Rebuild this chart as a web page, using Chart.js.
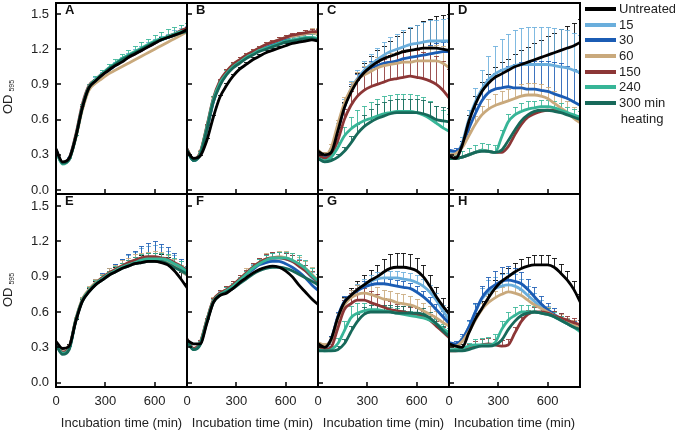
<!DOCTYPE html>
<html>
<head>
<meta charset="utf-8">
<script src="https://cdn.jsdelivr.net/npm/chart.js@4.4.1/dist/chart.umd.min.js"></script>
<style>
  body { margin: 0; background: #fff; width: 675px; height: 431px; position: relative; overflow: hidden;
         font-family: "Liberation Sans", Arial, sans-serif; color: #222; }
  canvas { position: absolute; }
  .od { position: absolute; left: -22px; width: 60px; height: 16px; line-height: 16px; text-align: center;
        font-size: 13px; transform: rotate(-90deg); white-space: nowrap; }
  .od sub { font-size: 7px; vertical-align: -2px; margin-left: 3px; }
  .lg-line { position: absolute; left: 585px; width: 31px; height: 4px; }
  .lg-text { position: absolute; left: 619px; font-size: 13px; line-height: 16px; white-space: nowrap; }
</style>
</head>
<body>
<script>
// time axis (min) and tick labels
const timeMin = [0, 40, 80, 120, 160, 200, 240, 280, 320, 360, 400, 440, 480, 520, 560, 600, 640, 680, 720, 760, 800];
const xTicks = [0, 300, 600];
const yTicks = [0, 0.3, 0.6, 0.9, 1.2, 1.5];
const seriesNames = ['Untreated', '15', '30', '60', '150', '240', '300 min heating'];
const seriesColors = ['#000000', '#6aaedc', '#1b5cb4', '#c9a97c', '#8c3636', '#37b597', '#17695a'];
const panelLetters = ['A', 'B', 'C', 'D', 'E', 'F', 'G', 'H'];

// OD595 per panel, one row per series (Untreated, 15, 30, 60, 150, 240, 300)
const odA = [
  [0.35,0.24,0.27,0.45,0.70,0.87,0.93,0.98,1.02,1.06,1.09,1.13,1.16,1.19,1.22,1.25,1.28,1.30,1.32,1.34,1.37],
  [0.34,0.23,0.27,0.46,0.71,0.88,0.94,0.99,1.03,1.07,1.10,1.14,1.17,1.20,1.23,1.26,1.28,1.30,1.33,1.35,1.37],
  [0.33,0.23,0.26,0.45,0.70,0.87,0.93,0.98,1.02,1.06,1.10,1.13,1.16,1.19,1.22,1.25,1.28,1.30,1.32,1.35,1.37],
  [0.33,0.23,0.26,0.44,0.68,0.85,0.91,0.95,0.99,1.02,1.05,1.08,1.11,1.14,1.17,1.20,1.23,1.26,1.29,1.32,1.35],
  [0.34,0.23,0.27,0.47,0.73,0.89,0.94,0.99,1.03,1.07,1.10,1.13,1.16,1.19,1.22,1.25,1.28,1.31,1.33,1.36,1.38],
  [0.33,0.22,0.26,0.45,0.71,0.88,0.94,0.99,1.04,1.08,1.12,1.15,1.18,1.21,1.24,1.27,1.29,1.31,1.33,1.35,1.36],
  [0.34,0.23,0.26,0.45,0.70,0.87,0.93,0.98,1.03,1.07,1.11,1.14,1.17,1.20,1.23,1.26,1.28,1.30,1.32,1.34,1.35]
];
const odB = [
  [0.33,0.27,0.29,0.42,0.62,0.79,0.89,0.97,1.03,1.07,1.11,1.14,1.17,1.19,1.21,1.23,1.25,1.26,1.27,1.28,1.27],
  [0.35,0.25,0.31,0.52,0.76,0.91,1.00,1.06,1.10,1.14,1.17,1.20,1.23,1.25,1.27,1.29,1.31,1.32,1.33,1.34,1.34],
  [0.34,0.25,0.31,0.51,0.75,0.90,0.99,1.05,1.10,1.14,1.17,1.20,1.23,1.25,1.27,1.29,1.31,1.32,1.33,1.34,1.35],
  [0.35,0.26,0.32,0.53,0.77,0.92,1.01,1.07,1.11,1.15,1.18,1.21,1.24,1.26,1.28,1.30,1.31,1.32,1.33,1.34,1.33],
  [0.35,0.26,0.32,0.54,0.78,0.93,1.01,1.07,1.11,1.15,1.18,1.21,1.24,1.26,1.28,1.30,1.32,1.33,1.34,1.35,1.35],
  [0.34,0.25,0.31,0.53,0.77,0.91,0.99,1.05,1.09,1.13,1.16,1.19,1.21,1.23,1.25,1.27,1.28,1.29,1.30,1.30,1.29],
  [0.34,0.25,0.30,0.51,0.75,0.89,0.98,1.04,1.08,1.12,1.15,1.18,1.20,1.22,1.24,1.26,1.27,1.28,1.29,1.29,1.28]
];
const odC = [
  [0.33,0.30,0.32,0.50,0.70,0.83,0.93,1.00,1.05,1.09,1.12,1.14,1.16,1.18,1.19,1.20,1.21,1.21,1.21,1.20,1.19],
  [0.32,0.28,0.33,0.52,0.72,0.86,0.95,1.02,1.07,1.11,1.15,1.18,1.20,1.22,1.24,1.25,1.26,1.27,1.27,1.27,1.27],
  [0.32,0.28,0.32,0.51,0.70,0.85,0.94,1.00,1.04,1.06,1.08,1.09,1.10,1.12,1.13,1.14,1.15,1.16,1.17,1.18,1.18],
  [0.34,0.30,0.36,0.56,0.74,0.86,0.94,0.98,1.01,1.04,1.06,1.07,1.08,1.09,1.09,1.10,1.10,1.10,1.10,1.08,1.04],
  [0.30,0.27,0.30,0.42,0.60,0.72,0.80,0.85,0.88,0.90,0.92,0.94,0.95,0.96,0.97,0.96,0.95,0.93,0.90,0.85,0.78],
  [0.27,0.25,0.28,0.36,0.46,0.52,0.56,0.59,0.61,0.63,0.65,0.66,0.67,0.67,0.67,0.66,0.64,0.61,0.57,0.53,0.50],
  [0.27,0.24,0.25,0.28,0.33,0.40,0.48,0.54,0.58,0.61,0.63,0.65,0.66,0.66,0.66,0.66,0.65,0.63,0.60,0.59,0.58]
];
const odD = [
  [0.29,0.27,0.38,0.58,0.73,0.84,0.91,0.96,0.99,1.02,1.05,1.07,1.09,1.11,1.13,1.15,1.17,1.19,1.21,1.23,1.26],
  [0.33,0.31,0.40,0.60,0.75,0.86,0.94,0.99,1.02,1.04,1.06,1.07,1.07,1.07,1.07,1.07,1.06,1.05,1.04,1.02,1.00],
  [0.34,0.33,0.38,0.52,0.65,0.76,0.83,0.86,0.87,0.88,0.87,0.87,0.86,0.86,0.85,0.84,0.82,0.80,0.78,0.75,0.72],
  [0.30,0.31,0.36,0.46,0.56,0.64,0.69,0.72,0.74,0.76,0.78,0.80,0.81,0.81,0.80,0.78,0.74,0.70,0.66,0.61,0.57],
  [0.27,0.27,0.28,0.30,0.32,0.34,0.33,0.32,0.32,0.37,0.47,0.56,0.62,0.65,0.67,0.68,0.68,0.67,0.65,0.63,0.61],
  [0.27,0.27,0.28,0.30,0.32,0.34,0.33,0.32,0.45,0.58,0.64,0.67,0.69,0.70,0.71,0.71,0.70,0.68,0.66,0.64,0.62],
  [0.27,0.27,0.28,0.30,0.32,0.33,0.33,0.32,0.34,0.42,0.51,0.59,0.64,0.67,0.68,0.68,0.67,0.66,0.64,0.62,0.60]
];
const odE = [
  [0.35,0.29,0.31,0.52,0.69,0.77,0.83,0.87,0.91,0.94,0.97,0.99,1.01,1.02,1.03,1.03,1.02,1.00,0.95,0.88,0.80],
  [0.33,0.25,0.29,0.53,0.70,0.78,0.84,0.88,0.92,0.95,0.98,1.00,1.02,1.04,1.05,1.05,1.04,1.02,0.99,0.95,0.91],
  [0.33,0.25,0.29,0.53,0.70,0.78,0.84,0.88,0.92,0.95,0.98,1.01,1.03,1.05,1.06,1.06,1.05,1.03,1.00,0.96,0.91],
  [0.34,0.26,0.30,0.54,0.71,0.79,0.85,0.89,0.93,0.96,0.99,1.01,1.03,1.04,1.05,1.05,1.04,1.02,0.99,0.95,0.91],
  [0.34,0.26,0.30,0.53,0.70,0.78,0.84,0.89,0.93,0.96,0.99,1.02,1.04,1.06,1.07,1.07,1.06,1.05,1.02,0.99,0.95],
  [0.33,0.25,0.29,0.53,0.70,0.78,0.84,0.88,0.92,0.95,0.98,1.00,1.02,1.04,1.05,1.05,1.05,1.04,1.01,0.98,0.94],
  [0.32,0.24,0.28,0.52,0.69,0.77,0.83,0.87,0.91,0.94,0.97,0.99,1.01,1.02,1.03,1.03,1.03,1.01,0.98,0.95,0.92]
];
const odF = [
  [0.36,0.33,0.33,0.50,0.68,0.74,0.76,0.80,0.85,0.89,0.93,0.96,0.98,0.99,0.98,0.95,0.90,0.83,0.77,0.71,0.66],
  [0.37,0.29,0.33,0.52,0.69,0.75,0.78,0.82,0.87,0.92,0.97,1.01,1.04,1.05,1.06,1.05,1.03,1.00,0.95,0.89,0.82],
  [0.36,0.29,0.33,0.52,0.69,0.75,0.78,0.82,0.87,0.92,0.96,1.00,1.02,1.03,1.03,1.01,0.98,0.94,0.89,0.83,0.78],
  [0.37,0.29,0.34,0.53,0.70,0.76,0.79,0.83,0.88,0.93,0.98,1.02,1.05,1.06,1.07,1.06,1.04,1.01,0.97,0.92,0.86],
  [0.37,0.29,0.34,0.53,0.70,0.76,0.79,0.83,0.88,0.93,0.98,1.02,1.05,1.06,1.06,1.05,1.03,0.99,0.95,0.90,0.85],
  [0.36,0.28,0.33,0.52,0.69,0.75,0.78,0.82,0.87,0.92,0.97,1.01,1.04,1.06,1.06,1.06,1.04,1.01,0.97,0.91,0.86],
  [0.35,0.28,0.32,0.51,0.68,0.74,0.77,0.80,0.84,0.88,0.92,0.95,0.97,0.98,0.98,0.97,0.95,0.92,0.89,0.86,0.83]
];
const odG = [
  [0.33,0.30,0.37,0.55,0.68,0.74,0.79,0.83,0.87,0.90,0.94,0.97,0.98,0.98,0.97,0.95,0.90,0.82,0.73,0.65,0.58],
  [0.32,0.30,0.36,0.55,0.68,0.74,0.79,0.83,0.86,0.88,0.89,0.89,0.89,0.88,0.87,0.85,0.82,0.77,0.70,0.61,0.53],
  [0.33,0.31,0.37,0.56,0.69,0.74,0.78,0.81,0.83,0.84,0.84,0.83,0.82,0.81,0.80,0.77,0.73,0.68,0.62,0.56,0.50],
  [0.34,0.32,0.36,0.54,0.66,0.72,0.75,0.76,0.75,0.73,0.71,0.70,0.68,0.67,0.66,0.64,0.61,0.58,0.55,0.51,0.48],
  [0.31,0.28,0.30,0.46,0.62,0.67,0.70,0.70,0.68,0.66,0.64,0.62,0.61,0.60,0.59,0.58,0.56,0.53,0.48,0.43,0.38],
  [0.28,0.27,0.28,0.33,0.44,0.55,0.59,0.61,0.62,0.62,0.61,0.60,0.59,0.58,0.57,0.56,0.55,0.53,0.50,0.46,0.42],
  [0.27,0.27,0.27,0.28,0.33,0.43,0.52,0.58,0.60,0.60,0.60,0.60,0.59,0.59,0.59,0.59,0.58,0.55,0.50,0.44,0.39]
];
const odH = [
  [0.33,0.31,0.30,0.42,0.54,0.63,0.72,0.80,0.86,0.90,0.94,0.97,0.99,1.00,1.00,1.00,0.98,0.93,0.87,0.79,0.68],
  [0.34,0.32,0.37,0.47,0.60,0.71,0.77,0.80,0.82,0.83,0.82,0.79,0.74,0.69,0.64,0.60,0.56,0.53,0.50,0.47,0.44],
  [0.34,0.33,0.37,0.47,0.60,0.72,0.79,0.83,0.86,0.87,0.86,0.84,0.79,0.73,0.67,0.62,0.58,0.54,0.51,0.48,0.45],
  [0.31,0.31,0.35,0.43,0.53,0.62,0.68,0.72,0.75,0.77,0.76,0.74,0.70,0.66,0.63,0.60,0.57,0.54,0.51,0.49,0.46],
  [0.27,0.27,0.28,0.30,0.31,0.32,0.33,0.32,0.31,0.32,0.42,0.52,0.58,0.60,0.60,0.59,0.57,0.55,0.53,0.51,0.49],
  [0.28,0.28,0.29,0.31,0.32,0.32,0.32,0.34,0.45,0.53,0.57,0.60,0.60,0.60,0.59,0.58,0.56,0.53,0.50,0.47,0.43],
  [0.27,0.27,0.27,0.28,0.30,0.31,0.31,0.32,0.36,0.45,0.52,0.57,0.59,0.60,0.59,0.58,0.56,0.53,0.50,0.47,0.45]
];

// upper error bars (SD) per panel, null where none are drawn
const errA = [
  [0.01,0.01,0.01,0.02,0.02,0.02,0.02,0.02,0.02,0.02,0.02,0.02,0.02,0.02,0.02,0.02,0.02,0.02,0.02,0.02,0.02],
  [0.01,0.01,0.01,0.01,0.02,0.02,0.02,0.02,0.02,0.02,0.03,0.03,0.03,0.03,0.03,0.03,0.03,0.03,0.03,0.03,0.03],
  null, null, null,
  [0.01,0.01,0.01,0.02,0.02,0.02,0.03,0.03,0.03,0.04,0.04,0.04,0.05,0.05,0.05,0.05,0.06,0.06,0.06,0.06,0.06],
  null
];
const errB = [
  [0.01,0.01,0.01,0.02,0.02,0.02,0.02,0.02,0.02,0.02,0.02,0.02,0.02,0.02,0.02,0.02,0.02,0.02,0.02,0.02,0.02],
  null, null,
  [0.01,0.01,0.02,0.02,0.02,0.02,0.02,0.02,0.02,0.02,0.02,0.02,0.02,0.02,0.02,0.02,0.02,0.03,0.03,0.04,0.05],
  [0.01,0.01,0.01,0.02,0.02,0.02,0.02,0.02,0.02,0.02,0.02,0.02,0.02,0.02,0.02,0.02,0.02,0.02,0.02,0.02,0.02],
  [0.01,0.01,0.02,0.02,0.03,0.03,0.03,0.03,0.03,0.03,0.03,0.03,0.03,0.03,0.03,0.03,0.03,0.03,0.03,0.03,0.03],
  null
];
const errC = [
  [0.02,0.02,0.03,0.04,0.05,0.06,0.07,0.08,0.09,0.10,0.11,0.13,0.15,0.17,0.19,0.21,0.23,0.25,0.27,0.29,0.31],
  [0.02,0.02,0.03,0.05,0.06,0.07,0.07,0.08,0.09,0.10,0.11,0.12,0.13,0.14,0.15,0.16,0.17,0.18,0.18,0.19,0.20],
  [0.02,0.02,0.02,0.03,0.04,0.05,0.05,0.05,0.06,0.06,0.06,0.06,0.07,0.07,0.07,0.07,0.07,0.08,0.08,0.08,0.08],
  [0.02,0.02,0.03,0.04,0.05,0.06,0.07,0.08,0.08,0.09,0.09,0.10,0.10,0.10,0.11,0.11,0.12,0.13,0.14,0.15,0.16],
  [0.02,0.02,0.03,0.06,0.09,0.12,0.14,0.16,0.18,0.19,0.20,0.21,0.22,0.22,0.22,0.23,0.23,0.24,0.24,0.25,0.25],
  [0.02,0.02,0.03,0.05,0.08,0.10,0.12,0.13,0.14,0.15,0.15,0.15,0.15,0.15,0.15,0.15,0.15,0.15,0.15,0.15,0.15],
  [0.01,0.01,0.02,0.03,0.04,0.06,0.08,0.10,0.11,0.12,0.12,0.12,0.12,0.12,0.12,0.12,0.12,0.12,0.12,0.12,0.12]
];
const errD = [
  [0.02,0.02,0.04,0.06,0.07,0.08,0.08,0.09,0.10,0.10,0.11,0.12,0.13,0.14,0.15,0.16,0.17,0.18,0.19,0.19,0.20],
  [0.02,0.03,0.05,0.08,0.12,0.16,0.20,0.24,0.27,0.29,0.30,0.31,0.32,0.32,0.32,0.32,0.32,0.32,0.32,0.32,0.32],
  [0.02,0.03,0.04,0.06,0.08,0.10,0.12,0.14,0.16,0.18,0.20,0.22,0.23,0.24,0.25,0.26,0.27,0.28,0.28,0.28,0.28],
  [0.02,0.02,0.03,0.05,0.07,0.08,0.09,0.10,0.10,0.10,0.10,0.10,0.10,0.10,0.10,0.10,0.10,0.10,0.10,0.10,0.10],
  null,
  [0.02,0.03,0.05,0.06,0.06,0.06,0.06,0.06,0.06,0.07,0.07,0.07,0.07,0.06,0.06,0.06,0.06,0.06,0.05,0.05,0.05],
  null
];
const errE = [
  [0.01,0.01,0.02,0.02,0.02,0.03,0.03,0.03,0.04,0.04,0.05,0.05,0.06,0.06,0.07,0.07,0.07,0.07,0.06,0.06,0.05],
  [0.01,0.01,0.02,0.02,0.03,0.03,0.04,0.04,0.05,0.06,0.07,0.08,0.09,0.10,0.11,0.12,0.11,0.10,0.09,0.08,0.07],
  [0.01,0.01,0.02,0.02,0.03,0.03,0.04,0.05,0.05,0.06,0.07,0.08,0.09,0.11,0.13,0.14,0.13,0.12,0.10,0.09,0.08],
  [0.01,0.01,0.02,0.02,0.02,0.03,0.03,0.03,0.04,0.04,0.05,0.05,0.06,0.06,0.06,0.07,0.07,0.06,0.06,0.05,0.05],
  null,
  [0.01,0.01,0.02,0.02,0.02,0.03,0.03,0.03,0.03,0.04,0.04,0.04,0.05,0.05,0.05,0.05,0.05,0.05,0.05,0.05,0.05],
  null
];
const errF = [
  null,
  [0.01,0.01,0.02,0.02,0.03,0.03,0.03,0.03,0.03,0.03,0.04,0.04,0.04,0.05,0.05,0.05,0.05,0.05,0.05,0.05,0.05],
  null,
  [0.01,0.01,0.02,0.02,0.03,0.03,0.03,0.03,0.03,0.04,0.04,0.04,0.05,0.05,0.05,0.06,0.06,0.06,0.06,0.06,0.06],
  [0.01,0.01,0.02,0.02,0.02,0.03,0.03,0.03,0.03,0.03,0.04,0.04,0.04,0.05,0.05,0.05,0.05,0.05,0.05,0.05,0.05],
  [0.01,0.01,0.02,0.02,0.02,0.02,0.03,0.03,0.03,0.03,0.03,0.04,0.04,0.04,0.05,0.05,0.06,0.07,0.07,0.06,0.06],
  null
];
const errG = [
  [0.02,0.02,0.03,0.04,0.05,0.06,0.07,0.08,0.09,0.10,0.11,0.12,0.12,0.12,0.12,0.11,0.10,0.09,0.08,0.07,0.06],
  [0.02,0.02,0.03,0.04,0.04,0.05,0.05,0.05,0.05,0.06,0.06,0.06,0.06,0.06,0.06,0.06,0.06,0.06,0.06,0.05,0.05],
  [0.02,0.02,0.03,0.04,0.05,0.05,0.05,0.05,0.05,0.05,0.05,0.05,0.05,0.05,0.05,0.05,0.05,0.05,0.05,0.05,0.05],
  [0.02,0.02,0.03,0.05,0.06,0.07,0.08,0.08,0.08,0.08,0.08,0.08,0.08,0.08,0.08,0.07,0.07,0.07,0.06,0.06,0.05],
  [0.02,0.02,0.03,0.06,0.08,0.09,0.10,0.10,0.10,0.09,0.08,0.07,0.06,0.05,0.05,0.05,0.05,0.05,0.04,0.04,0.04],
  [0.02,0.02,0.03,0.05,0.08,0.10,0.09,0.07,0.06,0.05,0.04,0.04,0.04,0.04,0.04,0.04,0.04,0.04,0.04,0.04,0.04],
  [0.01,0.01,0.02,0.03,0.04,0.05,0.06,0.06,0.06,0.06,0.06,0.06,0.06,0.06,0.06,0.05,0.05,0.05,0.05,0.04,0.04]
];
const errH = [
  [0.02,0.02,0.03,0.04,0.05,0.06,0.06,0.07,0.07,0.07,0.08,0.08,0.08,0.08,0.08,0.08,0.08,0.08,0.08,0.07,0.07],
  [0.02,0.02,0.03,0.05,0.07,0.09,0.10,0.10,0.10,0.10,0.10,0.09,0.08,0.07,0.06,0.05,0.05,0.04,0.04,0.04,0.04],
  [0.02,0.02,0.04,0.06,0.08,0.10,0.11,0.12,0.12,0.12,0.11,0.10,0.09,0.08,0.07,0.06,0.05,0.05,0.04,0.04,0.04],
  [0.02,0.02,0.03,0.04,0.05,0.06,0.06,0.06,0.06,0.06,0.06,0.05,0.05,0.05,0.04,0.04,0.04,0.04,0.04,0.04,0.04],
  [0.01,0.01,0.02,0.03,0.04,0.05,0.05,0.05,0.05,0.05,0.05,0.04,0.04,0.04,0.04,0.04,0.04,0.04,0.04,0.04,0.04],
  [0.01,0.01,0.02,0.03,0.05,0.06,0.07,0.07,0.07,0.07,0.07,0.06,0.06,0.05,0.05,0.05,0.04,0.04,0.04,0.04,0.04],
  null
];

const panelData = [odA, odB, odC, odD, odE, odF, odG, odH];
const panelErr = [errA, errB, errC, errD, errE, errF, errG, errH];

// layout (pixels)
const colLeft = [56, 187, 318, 449];
const panelW = 131;
const rowTop = [3, 194];
const rowH = [191, 193];
const yAxisW = 56;
const xAxisH = 44;
const pad = 3;
const FONT = '"Liberation Sans", Arial, sans-serif';

// frame, inward ticks, panel letter and error bars
function panelPlugin(letter) {
  return {
    id: 'panel' + letter,
    beforeDatasetsDraw(chart) {
      const { ctx, chartArea: a, scales: { x, y } } = chart;
      ctx.save();
      ctx.beginPath();
      ctx.rect(a.left, a.top, a.right - a.left, a.bottom - a.top);
      ctx.clip();
      chart.data.datasets.forEach(ds => {
        if (!ds.err) return;
        ctx.strokeStyle = ds.borderColor;
        ctx.globalAlpha = 0.85;
        ctx.lineWidth = 1;
        ds.data.forEach((p, i) => {
          if (i === 0) return;
          const px = Math.round(x.getPixelForValue(p.x)) + 0.5;
          const y0 = y.getPixelForValue(p.y);
          const y1 = Math.round(y.getPixelForValue(p.y + ds.err[i])) + 0.5;
          ctx.beginPath();
          ctx.moveTo(px, y0);
          ctx.lineTo(px, y1);
          ctx.moveTo(px - 2.5, y1);
          ctx.lineTo(px + 2.5, y1);
          ctx.stroke();
        });
      });
      ctx.restore();
    },
    afterDraw(chart) {
      const { ctx, chartArea: a, scales: { x, y } } = chart;
      ctx.save();
      ctx.strokeStyle = '#000';
      ctx.lineWidth = 1.5;
      ctx.beginPath();
      yTicks.forEach(v => {
        const py = Math.round(y.getPixelForValue(v));
        ctx.moveTo(a.left, py);
        ctx.lineTo(a.left + 5, py);
      });
      xTicks.forEach(v => {
        if (v === 0) return;
        const px = Math.round(x.getPixelForValue(v));
        ctx.moveTo(px, a.bottom);
        ctx.lineTo(px, a.bottom - 5);
      });
      ctx.stroke();
      ctx.lineWidth = 2;
      ctx.strokeRect(a.left, a.top, a.right - a.left, a.bottom - a.top);
      ctx.fillStyle = '#111';
      ctx.font = 'bold 13px ' + FONT;
      ctx.textBaseline = 'top';
      ctx.fillText(letter, a.left + 9, a.top + 1);
      ctx.restore();
    }
  };
}

function makePanel(idx) {
  const r = Math.floor(idx / 4), c = idx % 4;
  const leftSpace = c === 0 ? yAxisW : pad;
  const bottomSpace = r === 1 ? xAxisH : pad;
  const w = leftSpace + panelW + pad;
  const h = pad + rowH[r] + bottomSpace;
  const canvas = document.createElement('canvas');
  canvas.width = w;
  canvas.height = h;
  canvas.style.left = (c === 0 ? 0 : colLeft[c] - pad) + 'px';
  canvas.style.top = (rowTop[r] - pad) + 'px';
  canvas.style.width = w + 'px';
  canvas.style.height = h + 'px';
  document.body.appendChild(canvas);

  const yMin = r === 0 ? -0.034 : -0.037;
  const yMax = r === 0 ? 1.594 : 1.602;

  new Chart(canvas, {
    type: 'line',
    data: {
      datasets: panelData[idx].map((vals, k) => ({
        label: seriesNames[k],
        data: timeMin.map((t, i) => ({ x: t, y: vals[i] })),
        err: panelErr[idx][k],
        borderColor: seriesColors[k],
        borderWidth: 2.8,
        pointRadius: 0,
        fill: false,
        cubicInterpolationMode: 'monotone',
        order: k === 0 ? 0 : 7 - k
      }))
    },
    options: {
      responsive: false,
      animation: false,
      devicePixelRatio: 1,
      layout: {
        autoPadding: false,
        padding: { left: c === 0 ? 0 : pad, right: pad, top: pad, bottom: r === 1 ? 0 : pad }
      },
      plugins: { legend: { display: false }, tooltip: { enabled: false } },
      scales: {
        x: {
          type: 'linear',
          min: 0,
          max: 797,
          display: r === 1,
          afterBuildTicks: s => { s.ticks = xTicks.map(v => ({ value: v })); },
          afterFit: s => {
            s.height = r === 1 ? xAxisH : 0;
            s.paddingLeft = 0;
            s.paddingRight = 0;
          },
          grid: { display: false, drawTicks: false },
          border: { display: false },
          ticks: { padding: 7, color: '#222', maxRotation: 0, autoSkip: false, font: { size: 13, family: FONT } },
          title: {
            display: true,
            text: 'Incubation time (min)',
            color: '#222',
            font: { size: 13, family: FONT },
            padding: { top: 0, bottom: 0 }
          }
        },
        y: {
          min: yMin,
          max: yMax,
          display: c === 0,
          afterBuildTicks: s => { s.ticks = yTicks.map(v => ({ value: v })); },
          afterFit: s => {
            s.width = c === 0 ? yAxisW : 0;
            s.paddingTop = 0;
            s.paddingBottom = 0;
          },
          grid: { display: false, drawTicks: false },
          border: { display: false },
          ticks: {
            padding: 7,
            color: '#222',
            font: { size: 13, family: FONT },
            callback: v => Number(v).toFixed(1)
          }
        }
      }
    },
    plugins: [panelPlugin(panelLetters[idx])]
  });
}

for (let i = 0; i < 8; i++) makePanel(i);

// y axis titles
[97, 290].forEach(cy => {
  const d = document.createElement('div');
  d.className = 'od';
  d.style.top = (cy - 8) + 'px';
  d.innerHTML = 'OD<sub>595</sub>';
  document.body.appendChild(d);
});

// legend
const legendRows = [9, 24.7, 40.4, 56, 71.7, 87.4, 103.1];
seriesNames.forEach((name, k) => {
  const cy = legendRows[k];
  const ln = document.createElement('div');
  ln.className = 'lg-line';
  ln.style.top = (cy - 2) + 'px';
  ln.style.background = seriesColors[k];
  document.body.appendChild(ln);
  const tx = document.createElement('div');
  tx.className = 'lg-text';
  tx.style.top = (cy - 8) + 'px';
  if (k === seriesNames.length - 1) {
    tx.style.textAlign = 'center';
    tx.innerHTML = '300 min<br>heating';
    tx.style.lineHeight = '15.5px';
  } else {
    tx.textContent = name;
  }
  document.body.appendChild(tx);
});
</script>
</body>
</html>
